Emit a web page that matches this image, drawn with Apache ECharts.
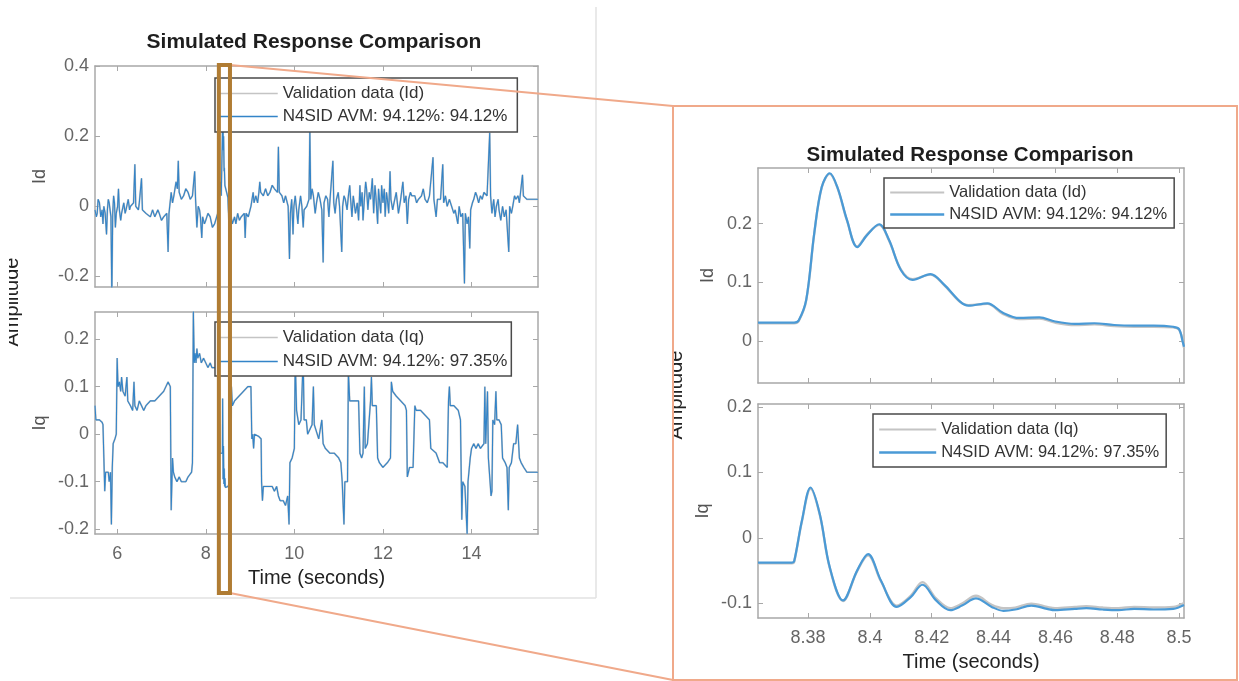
<!DOCTYPE html>
<html><head><meta charset="utf-8">
<script src="https://cdn.jsdelivr.net/npm/echarts@6/dist/echarts.min.js"></script>
<style>html,body{margin:0;padding:0;background:#fff}#c{width:1239px;height:681px}</style>
</head><body><div id="c"></div>
<script>
// ---------- DATA ----------
const nameValId = 'Validation data (Id)';
const nameModId = 'N4SID AVM: 94.12%: 94.12%';
const nameValIq = 'Validation data (Iq)';
const nameModIq = 'N4SID AVM: 94.12%: 97.35%';
const titleText = 'Simulated Response Comparison';
const timeLabel = 'Time (seconds)';
const ampLabel = 'Amplitude';

const leftTimeRange = [5.5, 15.5];
const leftTimeTicks = [6, 8, 10, 12, 14];
const idLeftRange = [-0.23, 0.4];
const idLeftTicks = [-0.2, 0, 0.2, 0.4];
const iqLeftRange = [-0.21, 0.257];
const iqLeftTicks = [-0.2, -0.1, 0, 0.1, 0.2];

const zoomTimeRange = [8.3638, 8.5016];
const zoomTimeTicks = [8.38, 8.40, 8.42, 8.44, 8.46, 8.48, 8.50];
const idZoomRange = [-0.072, 0.295];
const idZoomTicks = [0, 0.1, 0.2];
const iqZoomRange = [-0.123, 0.205];
const iqZoomTicks = [-0.1, 0, 0.1, 0.2];

// overview Id (time, value)
const idLeft = [[5.50,-0.01],[5.53,-0.03],[5.55,-0.02],[5.57,0.02],[5.60,0.01],[5.63,-0.03],[5.66,-0.01],[5.68,-0.05],[5.70,0.00],[5.73,-0.02],[5.76,-0.08],[5.78,-0.01],[5.80,0.02],[5.82,0.01],[5.86,-0.03],[5.88,-0.26],[5.90,-0.02],[5.92,0.03],[5.94,0.01],[5.96,-0.06],[5.98,-0.02],[6.01,0.00],[6.03,0.05],[6.05,-0.01],[6.08,-0.04],[6.10,-0.02],[6.15,0.01],[6.18,-0.02],[6.20,-0.01],[6.25,0.02],[6.28,-0.01],[6.30,0.00],[6.37,0.01],[6.40,0.12],[6.42,0.00],[6.48,-0.01],[6.50,0.01],[6.55,0.08],[6.57,-0.01],[6.65,-0.02],[6.75,-0.03],[6.80,-0.01],[6.85,-0.03],[6.92,-0.01],[6.95,-0.02],[7.00,-0.04],[7.05,-0.03],[7.12,-0.02],[7.15,-0.13],[7.17,-0.02],[7.22,0.04],[7.25,0.01],[7.28,0.03],[7.33,0.07],[7.36,0.05],[7.38,0.13],[7.40,0.04],[7.45,0.02],[7.50,0.03],[7.55,0.05],[7.60,0.04],[7.65,0.02],[7.70,0.03],[7.75,0.10],[7.77,0.02],[7.80,-0.06],[7.83,0.00],[7.86,-0.01],[7.88,-0.03],[7.91,-0.09],[7.93,-0.03],[7.97,-0.05],[8.00,-0.04],[8.05,-0.02],[8.10,-0.03],[8.15,-0.06],[8.20,-0.05],[8.27,-0.02],[8.30,0.02],[8.33,0.07],[8.35,0.03],[8.377,0.03],[8.387,0.28],[8.396,0.16],[8.403,0.20],[8.414,0.10],[8.42,0.11],[8.432,0.06],[8.44,0.06],[8.50,0.025],[8.51,-0.01],[8.53,-0.06],[8.56,-0.02],[8.60,-0.05],[8.65,-0.03],[8.68,-0.05],[8.72,-0.02],[8.76,-0.04],[8.80,-0.03],[8.87,-0.02],[8.89,-0.09],[8.91,-0.02],[8.96,-0.03],[9.02,0.00],[9.07,0.04],[9.09,0.01],[9.13,0.03],[9.17,0.01],[9.20,0.04],[9.22,0.07],[9.24,0.04],[9.30,0.03],[9.35,0.05],[9.40,0.03],[9.45,0.04],[9.50,0.06],[9.55,0.05],[9.62,0.04],[9.64,0.17],[9.66,0.04],[9.72,0.03],[9.76,0.01],[9.80,0.03],[9.86,0.00],[9.89,-0.15],[9.91,-0.02],[9.94,0.02],[9.97,-0.08],[9.99,0.00],[10.02,0.03],[10.05,-0.01],[10.08,-0.05],[10.10,-0.01],[10.14,0.03],[10.17,0.00],[10.20,-0.06],[10.22,-0.01],[10.28,0.00],[10.33,0.02],[10.35,0.22],[10.37,0.02],[10.40,0.05],[10.43,0.03],[10.47,-0.02],[10.50,0.01],[10.54,0.04],[10.58,0.02],[10.62,-0.01],[10.65,-0.16],[10.67,0.01],[10.71,0.03],[10.75,0.02],[10.78,-0.03],[10.80,0.01],[10.87,0.13],[10.89,0.01],[10.92,-0.02],[10.95,0.02],[10.99,0.04],[11.02,0.00],[11.07,-0.13],[11.09,0.00],[11.12,0.03],[11.15,0.02],[11.19,-0.01],[11.22,0.03],[11.25,0.06],[11.27,0.02],[11.30,-0.03],[11.33,0.03],[11.38,-0.02],[11.42,0.01],[11.45,-0.04],[11.48,0.06],[11.50,0.00],[11.53,0.04],[11.55,-0.04],[11.58,0.02],[11.61,0.07],[11.63,0.05],[11.66,-0.01],[11.69,0.04],[11.72,0.02],[11.76,0.08],[11.79,-0.02],[11.82,0.06],[11.84,0.03],[11.88,-0.05],[11.90,0.05],[11.92,0.02],[11.95,-0.02],[11.97,0.06],[12.00,0.01],[12.03,0.05],[12.05,-0.03],[12.08,0.04],[12.10,0.02],[12.13,-0.02],[12.16,0.10],[12.18,0.02],[12.22,-0.01],[12.25,0.01],[12.30,0.04],[12.35,-0.02],[12.40,0.02],[12.45,0.07],[12.48,0.01],[12.52,0.03],[12.55,-0.05],[12.58,0.02],[12.62,0.04],[12.65,0.03],[12.72,0.03],[12.76,0.01],[12.80,0.02],[12.87,0.03],[12.91,0.05],[12.95,0.02],[13.00,0.01],[13.05,0.03],[13.13,0.14],[13.15,0.02],[13.20,-0.03],[13.23,0.02],[13.30,0.02],[13.35,0.12],[13.37,0.01],[13.41,0.03],[13.45,0.00],[13.50,0.02],[13.55,0.00],[13.60,-0.02],[13.63,-0.01],[13.69,-0.05],[13.72,0.00],[13.76,-0.03],[13.80,-0.02],[13.84,-0.22],[13.86,-0.02],[13.90,-0.05],[13.93,-0.03],[13.96,-0.12],[13.98,-0.01],[14.02,0.01],[14.05,0.02],[14.09,0.04],[14.12,0.03],[14.16,0.01],[14.20,0.03],[14.24,0.02],[14.28,0.04],[14.35,0.03],[14.41,0.21],[14.43,0.03],[14.46,-0.02],[14.50,0.02],[14.53,-0.03],[14.56,0.00],[14.60,0.02],[14.62,-0.01],[14.66,-0.04],[14.70,0.00],[14.74,-0.03],[14.78,-0.01],[14.84,-0.13],[14.86,0.00],[14.90,-0.02],[14.93,0.00],[14.97,0.03],[15.00,0.02],[15.05,0.03],[15.08,0.01],[15.15,0.09],[15.17,0.03],[15.25,0.02],[15.35,0.02],[15.45,0.02],[15.50,0.02]];

// overview Iq (time, value)
const iqLeft = [[5.50,0.06],[5.52,0.03],[5.60,0.03],[5.66,0.025],[5.68,0.02],[5.70,-0.05],[5.72,-0.12],[5.74,-0.08],[5.80,-0.08],[5.82,-0.10],[5.85,-0.08],[5.87,-0.19],[5.89,-0.07],[5.91,-0.02],[5.95,-0.01],[5.98,0.00],[6.00,0.16],[6.02,0.10],[6.05,0.11],[6.08,0.09],[6.10,0.12],[6.13,0.09],[6.18,0.08],[6.22,0.12],[6.24,0.07],[6.30,0.06],[6.35,0.05],[6.38,0.11],[6.40,0.06],[6.45,0.05],[6.50,0.07],[6.55,0.06],[6.60,0.05],[6.65,0.06],[6.75,0.07],[6.85,0.07],[6.95,0.08],[7.05,0.09],[7.10,0.10],[7.15,0.11],[7.20,0.10],[7.22,-0.16],[7.25,-0.05],[7.27,-0.08],[7.30,-0.09],[7.35,-0.10],[7.40,-0.09],[7.45,-0.10],[7.55,-0.10],[7.60,-0.09],[7.68,-0.08],[7.70,-0.06],[7.72,0.26],[7.74,0.15],[7.76,0.17],[7.78,0.15],[7.80,0.18],[7.82,0.16],[7.86,0.17],[7.90,0.15],[7.95,0.16],[8.00,0.15],[8.05,0.14],[8.10,0.15],[8.14,0.14],[8.20,0.14],[8.28,0.14],[8.30,0.13],[8.32,-0.04],[8.376,-0.04],[8.381,0.075],[8.391,-0.095],[8.40,-0.025],[8.409,-0.105],[8.417,-0.072],[8.426,-0.11],[8.434,-0.093],[8.443,-0.112],[8.50,-0.11],[8.52,-0.11],[8.56,-0.10],[8.58,0.10],[8.60,0.06],[8.65,0.07],[8.75,0.08],[8.85,0.09],[8.95,0.10],[9.02,0.10],[9.04,-0.01],[9.06,0.00],[9.08,-0.03],[9.10,0.00],[9.20,-0.005],[9.25,-0.01],[9.26,-0.10],[9.28,-0.14],[9.30,-0.11],[9.40,-0.11],[9.50,-0.11],[9.55,-0.12],[9.60,-0.11],[9.64,-0.13],[9.68,-0.14],[9.75,-0.14],[9.80,-0.15],[9.85,-0.13],[9.88,-0.19],[9.90,-0.06],[9.95,-0.05],[10.00,-0.03],[10.02,0.16],[10.05,0.05],[10.10,0.02],[10.15,0.03],[10.20,0.16],[10.22,0.03],[10.27,0.03],[10.30,0.00],[10.40,0.02],[10.43,0.10],[10.45,0.02],[10.55,-0.01],[10.62,0.03],[10.65,-0.02],[10.70,-0.03],[10.80,-0.04],[10.90,-0.04],[11.00,-0.05],[11.05,-0.06],[11.08,-0.10],[11.12,-0.19],[11.14,-0.10],[11.20,-0.10],[11.22,0.13],[11.25,0.07],[11.35,0.07],[11.45,0.07],[11.48,-0.04],[11.52,-0.05],[11.55,-0.04],[11.58,0.10],[11.60,-0.03],[11.65,-0.02],[11.72,0.07],[11.74,0.12],[11.76,0.06],[11.85,0.06],[11.88,-0.05],[11.92,-0.06],[12.00,-0.07],[12.10,-0.06],[12.17,-0.05],[12.19,0.11],[12.22,0.09],[12.30,0.08],[12.40,0.07],[12.50,0.06],[12.53,0.05],[12.55,-0.09],[12.60,-0.07],[12.68,-0.07],[12.72,0.06],[12.75,0.05],[12.85,0.05],[12.95,0.04],[13.05,0.03],[13.08,-0.03],[13.12,-0.03],[13.20,-0.04],[13.28,-0.06],[13.35,-0.06],[13.45,-0.07],[13.48,0.07],[13.50,0.10],[13.52,0.06],[13.60,0.06],[13.70,0.05],[13.75,0.03],[13.78,-0.18],[13.80,-0.10],[13.85,-0.11],[13.90,-0.21],[13.92,-0.10],[13.97,-0.05],[14.00,-0.03],[14.05,-0.02],[14.10,-0.03],[14.15,-0.02],[14.20,-0.03],[14.28,-0.02],[14.30,0.10],[14.32,-0.02],[14.36,0.09],[14.38,-0.05],[14.44,-0.13],[14.46,-0.12],[14.48,0.03],[14.52,0.02],[14.55,0.09],[14.57,0.03],[14.62,0.03],[14.67,0.02],[14.70,-0.05],[14.76,-0.06],[14.80,-0.07],[14.83,-0.16],[14.85,-0.07],[14.90,-0.06],[14.95,-0.02],[15.00,-0.02],[15.04,0.02],[15.08,-0.05],[15.12,-0.06],[15.18,-0.07],[15.25,-0.08],[15.35,-0.08],[15.45,-0.08],[15.50,-0.08]];

// zoomed Id
const idZoomTime = [8.3638,8.370,8.3755,8.377,8.3794,8.382,8.3844,8.387,8.3895,8.3926,8.3959,8.399,8.403,8.4062,8.410,8.4138,8.4196,8.424,8.4292,8.4318,8.438,8.443,8.4483,8.4548,8.4599,8.4663,8.4726,8.479,8.4855,8.4918,8.4981,8.500,8.5013,8.5016];
const idZoomModel = [0.031,0.031,0.031,0.035,0.07,0.184,0.262,0.286,0.262,0.206,0.16,0.18,0.199,0.172,0.121,0.104,0.114,0.096,0.067,0.06,0.064,0.048,0.039,0.04,0.033,0.029,0.03,0.027,0.026,0.026,0.024,0.02,-0.004,-0.01];
const idZoomValidation = [0.030,0.030,0.030,0.034,0.069,0.183,0.262,0.285,0.261,0.205,0.161,0.181,0.198,0.171,0.122,0.105,0.113,0.095,0.066,0.061,0.063,0.046,0.037,0.038,0.031,0.027,0.028,0.025,0.024,0.024,0.023,0.019,-0.003,-0.012];

// zoomed Iq
const iqZoomTime = [8.3638,8.370,8.3748,8.3755,8.378,8.3808,8.3838,8.387,8.3913,8.3959,8.3994,8.4036,8.4087,8.4132,8.417,8.4214,8.426,8.4298,8.4343,8.4394,8.4432,8.447,8.4522,8.4573,8.4599,8.4663,8.470,8.4752,8.4803,8.4855,8.4918,8.4981,8.5016];
const iqZoomModel = [-0.038,-0.038,-0.038,-0.036,0.026,0.077,0.036,-0.045,-0.096,-0.05,-0.025,-0.066,-0.106,-0.091,-0.072,-0.096,-0.111,-0.104,-0.093,-0.106,-0.112,-0.11,-0.104,-0.109,-0.111,-0.109,-0.108,-0.11,-0.111,-0.109,-0.11,-0.109,-0.103];
const iqZoomValidation = [-0.039,-0.039,-0.039,-0.037,0.025,0.075,0.035,-0.046,-0.097,-0.051,-0.027,-0.067,-0.104,-0.089,-0.068,-0.093,-0.108,-0.101,-0.089,-0.103,-0.108,-0.107,-0.101,-0.106,-0.108,-0.106,-0.105,-0.107,-0.108,-0.106,-0.107,-0.106,-0.100];

// ---------- STYLE ----------
const FONT = "'Liberation Sans', Arial, sans-serif";
const AX = '#a8a8a8';
const TICKTXT = '#666';
const BLUE_L = '#3384c8';
const BLUE_R = '#4a9ad6';
const GRAY = '#c4c4c4';
const fmt = v => String(+(+v).toFixed(2));

function axis(grid, range, ticks, pos, labels, extra) {
  const isX = pos === 'bottom' || pos === 'top';
  return Object.assign({
    type: 'value', gridIndex: grid, position: pos, min: range[0], max: range[1],
    axisLine: { show: true, onZero: false, lineStyle: { color: AX, width: 1.5 } },
    axisTick: { show: true, inside: true, length: 5, customValues: ticks, lineStyle: { color: AX, width: 1 } },
    axisLabel: { show: labels, customValues: ticks, formatter: fmt, margin: isX ? 11 : 6,
                 color: TICKTXT, fontSize: 18, fontFamily: FONT },
    splitLine: { show: false }, splitArea: { show: false }
  }, extra || {});
}
const xName = (gap) => ({ name: timeLabel, nameLocation: 'middle', nameGap: gap,
  nameTextStyle: { fontSize: 20, color: '#222', fontFamily: FONT } });
const yName = (n, gap) => ({ name: n, nameLocation: 'middle', nameGap: gap,
  nameTextStyle: { fontSize: 18, color: '#555', fontFamily: FONT } });

const xAxes = [
  axis(0, leftTimeRange, leftTimeTicks, 'bottom', false),
  axis(1, leftTimeRange, leftTimeTicks, 'bottom', true, xName(34)),
  axis(2, zoomTimeRange, zoomTimeTicks, 'bottom', false),
  axis(3, zoomTimeRange, zoomTimeTicks, 'bottom', true, xName(34)),
  axis(0, leftTimeRange, leftTimeTicks, 'top', false),
  axis(1, leftTimeRange, leftTimeTicks, 'top', false),
  axis(2, zoomTimeRange, zoomTimeTicks, 'top', false),
  axis(3, zoomTimeRange, zoomTimeTicks, 'top', false)
];
const yAxes = [
  axis(0, idLeftRange, idLeftTicks, 'left', true, yName('Id', 46)),
  axis(1, iqLeftRange, iqLeftTicks, 'left', true, yName('Iq', 46)),
  axis(2, idZoomRange, idZoomTicks, 'left', true, yName('Id', 41)),
  axis(3, iqZoomRange, iqZoomTicks, 'left', true, yName('Iq', 46)),
  axis(0, idLeftRange, idLeftTicks, 'right', false),
  axis(1, iqLeftRange, iqLeftTicks, 'right', false),
  axis(2, idZoomRange, idZoomTicks, 'right', false),
  axis(3, iqZoomRange, iqZoomTicks, 'right', false)
];

function line(name, idx, data, color, width, smooth) {
  return { type: 'line', name, xAxisIndex: idx, yAxisIndex: idx, data, symbol: 'none',
    showSymbol: false, smooth: smooth || false, clip: true, animation: false,
    lineStyle: { color, width }, itemStyle: { color } };
}
const zip = (t, v) => t.map((x, i) => [x, v[i]]);
const legendItem = (name, color, width) => ({ name, itemStyle: { opacity: 0 },
  lineStyle: { color, width, opacity: 1 } });

const legendBase = {
  orient: 'vertical', selectedMode: false, borderColor: '#4a4a4a', borderWidth: 1.5,
  borderRadius: 0, backgroundColor: '#fff', itemHeight: 12,
  textStyle: { fontSize: 17, color: '#333', fontFamily: FONT }
};

const option = {
  backgroundColor: '#fff',
  animation: false,
  grid: [
    { left: 95, top: 66, width: 443, height: 221, containLabel: false, outerBoundsMode: 'none' },
    { left: 95, top: 312, width: 443, height: 222, containLabel: false, outerBoundsMode: 'none' },
    { left: 758, top: 168, width: 426, height: 215, containLabel: false, outerBoundsMode: 'none' },
    { left: 758, top: 404, width: 426, height: 214, containLabel: false, outerBoundsMode: 'none' }
  ],
  xAxis: xAxes,
  yAxis: yAxes,
  legend: [
    Object.assign({}, legendBase, { left: 215, top: 78, itemWidth: 58, itemGap: 6, padding: [7, 10, 7, 4],
      data: [legendItem(nameValId, GRAY, 1.5), legendItem(nameModId, BLUE_L, 1.3)] }),
    Object.assign({}, legendBase, { left: 215, top: 322, itemWidth: 58, itemGap: 7, padding: [7, 4, 6, 4],
      data: [legendItem(nameValIq, GRAY, 1.5), legendItem(nameModIq, BLUE_L, 1.3)] }),
    Object.assign({}, legendBase, { left: 884, top: 178, itemWidth: 54, itemGap: 5, padding: [6, 7, 5, 5],
      textStyle: { fontSize: 16.5, color: '#333', fontFamily: FONT },
      data: [legendItem(nameValId, GRAY, 2), legendItem(nameModId, BLUE_R, 2.4)] }),
    Object.assign({}, legendBase, { left: 873, top: 414, itemWidth: 57, itemGap: 6, padding: [7, 7, 6, 5],
      textStyle: { fontSize: 16.5, color: '#333', fontFamily: FONT },
      data: [legendItem(nameValIq, GRAY, 2), legendItem(nameModIq, BLUE_R, 2.4)] })
  ],
  series: [
    line(nameValId, 0, idLeft, GRAY, 1.8),
    line(nameModId, 0, idLeft, BLUE_L, 1.1),
    line(nameValIq, 1, iqLeft, GRAY, 1.8),
    line(nameModIq, 1, iqLeft, BLUE_L, 1.1),
    line(nameValId, 2, zip(idZoomTime, idZoomValidation), GRAY, 2.4, 0.35),
    line(nameModId, 2, zip(idZoomTime, idZoomModel), BLUE_R, 2.2, 0.35),
    line(nameValIq, 3, zip(iqZoomTime, iqZoomValidation), GRAY, 2.4, 0.35),
    line(nameModIq, 3, zip(iqZoomTime, iqZoomModel), BLUE_R, 2.2, 0.35)
  ]
};

const chart = echarts.init(document.getElementById('c'), null, { renderer: 'canvas' });
chart.setOption(option);

// ---------- ANNOTATIONS (positions derived from the axes) ----------
const a = chart.convertToPixel({ xAxisIndex: 0, yAxisIndex: 0 }, [zoomTimeRange[0], idLeftRange[1]]);
const b = chart.convertToPixel({ xAxisIndex: 0, yAxisIndex: 0 }, [zoomTimeRange[1], idLeftRange[1]]);
const rx0 = a[0] - 3, rx1 = b[0] + 2, ry0 = a[1] - 1, ry1 = 593;
const panel = { x0: 673, y0: 106, x1: 1237, y1: 680 };
const BROWN = '#b07c33';
const SALMON = '#f0a98a';

chart.setOption({
  graphic: [
    // shared y labels (cropped by the figure edges like the screenshots)
    { type: 'text', z: 40, x: 12, y: 302, rotation: Math.PI / 2, style: { text: ampLabel, fill: '#222', font: '20px ' + FONT, textAlign: 'center', textVerticalAlign: 'middle' } },
    { type: 'text', z: 40, x: 676, y: 395, rotation: Math.PI / 2, style: { text: ampLabel, fill: '#222', font: '20px ' + FONT, textAlign: 'center', textVerticalAlign: 'middle' } },
    { type: 'rect', z: 45, shape: { x: 0, y: 240, width: 9, height: 130 }, style: { fill: '#fff' } },
    { type: 'rect', z: 45, shape: { x: 655, y: 330, width: 18, height: 130 }, style: { fill: '#fff' } },
    // left figure edge
    { type: 'line', z: 1, shape: { x1: 596, y1: 7, x2: 596, y2: 598 }, style: { stroke: '#e2e2e2', lineWidth: 1.5 } },
    { type: 'line', z: 1, shape: { x1: 10, y1: 598, x2: 596, y2: 598 }, style: { stroke: '#e2e2e2', lineWidth: 1.5 } },
    // titles
    { type: 'text', z: 50, x: 314, y: 42, style: { text: titleText, fill: '#1e1e1e', font: 'bold 21px ' + FONT, textAlign: 'center', textVerticalAlign: 'middle' } },
    { type: 'text', z: 50, x: 970, y: 155, style: { text: titleText, fill: '#1e1e1e', font: 'bold 20.5px ' + FONT, textAlign: 'center', textVerticalAlign: 'middle' } },
    // zoom panel frame
    { type: 'rect', z: 60, shape: { x: panel.x0, y: panel.y0, width: panel.x1 - panel.x0, height: panel.y1 - panel.y0 }, style: { fill: 'none', stroke: SALMON, lineWidth: 2 } },
    // connectors
    { type: 'line', z: 60, shape: { x1: rx1, y1: ry0, x2: panel.x0, y2: panel.y0 }, style: { stroke: SALMON, lineWidth: 2 } },
    { type: 'line', z: 60, shape: { x1: rx1, y1: ry1, x2: panel.x0, y2: panel.y1 }, style: { stroke: SALMON, lineWidth: 2 } },
    // highlighted time window on the overview
    { type: 'rect', z: 70, shape: { x: rx0, y: ry0, width: rx1 - rx0, height: ry1 - ry0 }, style: { fill: 'none', stroke: BROWN, lineWidth: 4 } }
  ]
});
</script>
</body></html>
